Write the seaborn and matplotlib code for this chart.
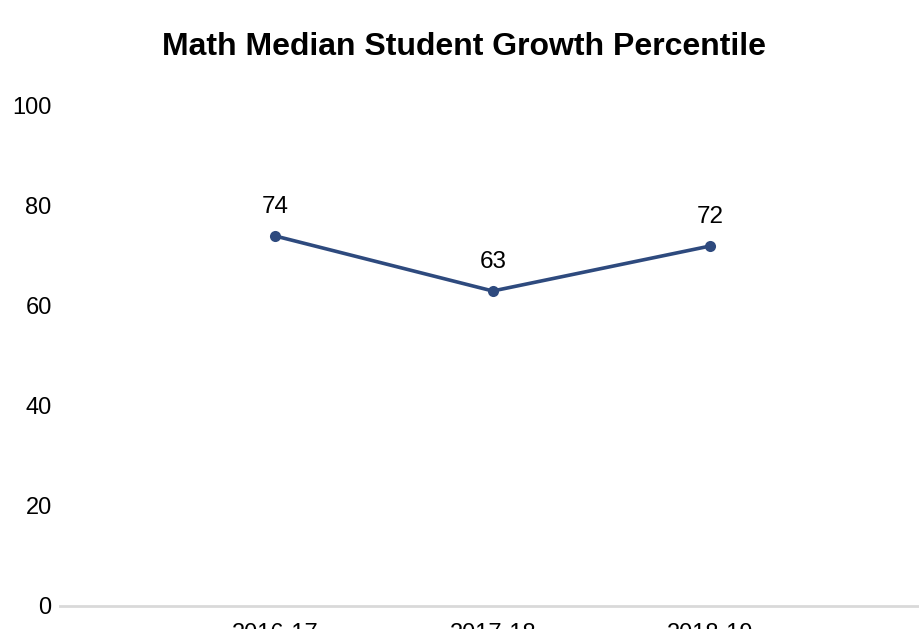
import matplotlib.pyplot as plt
import seaborn as sns

years = ['2016-17', '2017-18', '2018-19']
sgp = [74, 63, 72]

sns.set_theme(style='white')
plt.rcParams['font.family'] = ['Liberation Sans', 'DejaVu Sans']

fig = plt.figure(figsize=(9.19, 6.29), dpi=100)
ax = fig.add_axes([60 / 919, 23 / 629, 1 - 60 / 919, 500 / 629])

line_color = '#2e4a7e'
sns.lineplot(x=years, y=sgp, sort=False, marker='o', color=line_color,
             linewidth=2.6, markersize=8, markeredgewidth=0, ax=ax)

# value labels above each point
for yr, v in zip(years, sgp):
    ax.annotate(str(v), (yr, v), xytext=(0, 21), textcoords='offset points',
                ha='center', va='center', fontsize=17.5, color='black')

ax.set_ylim(0, 100)
ax.set_xlim(-0.99, 2.96)
ax.set_yticks([0, 20, 40, 60, 80, 100])
ax.tick_params(axis='y', length=0, pad=6, labelsize=17, labelcolor='black')
ax.tick_params(axis='x', length=0, pad=12, labelsize=17, labelcolor='black')

for side in ['left', 'right', 'top']:
    ax.spines[side].set_visible(False)
ax.spines['bottom'].set_color('#d9d9d9')
ax.spines['bottom'].set_linewidth(2)
ax.grid(False)
ax.set_xlabel('')
ax.set_ylabel('')

fig.text(464 / 919, 1 - 47 / 629, 'Math Median Student Growth Percentile',
         ha='center', va='center', fontsize=23, fontweight='bold', color='black')

fig.savefig('out.png', dpi=100)
